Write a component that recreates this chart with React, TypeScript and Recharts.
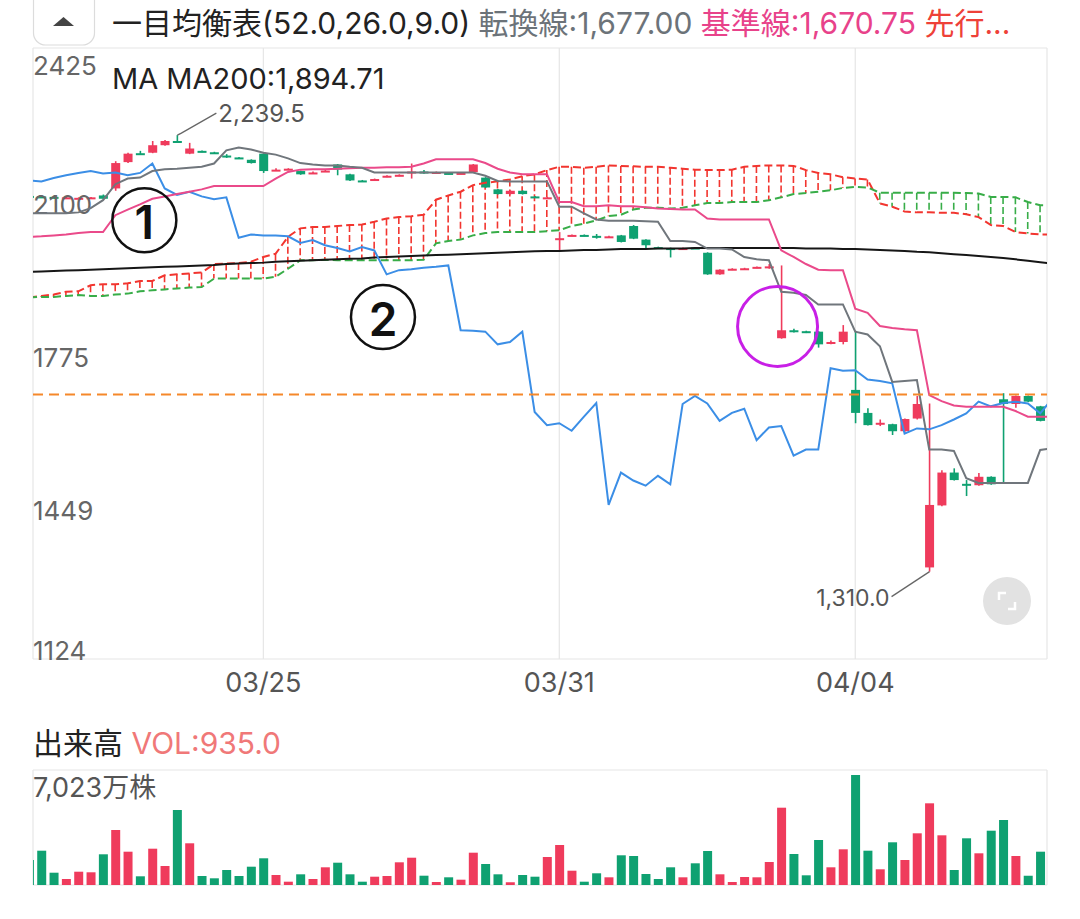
import React from 'react';
import {
  ComposedChart,
  BarChart,
  Bar,
  Line,
  XAxis,
  YAxis,
  CartesianGrid,
  ReferenceLine,
  ReferenceDot,
  Cell
} from 'recharts';

const FONT = "Inter, 'Noto Sans CJK JP', sans-serif";

// 表示範囲 (足のインデックス単位)
const X_MIN = 0.32;
const X_MAX = 82.55;
const Y_MIN = 1124;
const Y_MAX = 2425;
const PRICE_TICKS = [1124, 1449, 1775, 2100, 2425];
const DATE_TICKS = [19, 43, 67];
const DATE_LABELS = ['03/25', '03/31', '04/04'];
const VOL_MAX = 7023;
const LAST_LINE = 1687;

// ローソク足 (1本 = 約1時間)
const OPEN = [
  2110, 2109, 2108, 2105, 2104, 2105, 2111, 2126, 2182, 2201,
  2202, 2218, 2227, 2200, 2206, 2203, 2196, 2192, 2187, 2200,
  2164, 2166, 2163, 2158, 2162, 2177, 2156, 2143, 2144, 2151,
  2153, 2160, 2162, 2159, 2159, 2157, 2161, 2149, 2124, 2114,
  2121, 2109, 2105, 2018, 2025, 2027, 2025, 2022, 2026, 2046,
  2017, 2001, 1999, 1997, 2000, 1989, 1943, 1953, 1954, 1957,
  1958, 1807, 1824, 1822, 1821, 1796, 1799, 1697, 1648, 1625,
  1624, 1609, 1636, 1319, 1451, 1521, 1497, 1494, 1512, 1677,
  1667, 1684, 1662
];
const HIGH = [
  2112, 2110, 2109, 2108, 2107, 2108, 2113, 2184, 2202, 2206,
  2227, 2229, 2239.5, 2223, 2207, 2204, 2199, 2193, 2188, 2201,
  2169, 2169, 2164, 2162, 2166, 2178, 2157, 2144, 2147, 2154,
  2156, 2179, 2165, 2162, 2160, 2160, 2178, 2150, 2125, 2122,
  2122, 2110, 2108, 2033, 2028, 2028, 2029, 2025, 2027, 2048,
  2018, 2002, 2000, 2000, 2001, 1990, 1954, 1956, 1957, 1960,
  1965, 1962, 1827, 1823, 1822, 1802, 1835, 1823, 1658, 1634,
  1625, 1636, 1684, 1668, 1526, 1530, 1505, 1520, 1513, 1690,
  1685, 1685, 1663
];
const LOW = [
  2105, 2106, 2105, 2104, 2103, 2104, 2103, 2121, 2180, 2198,
  2201, 2217, 2224, 2199, 2203, 2200, 2191, 2189, 2179, 2159,
  2163, 2165, 2155, 2157, 2161, 2154, 2142, 2140, 2143, 2150,
  2152, 2147, 2157, 2158, 2156, 2156, 2160, 2127, 2113, 2113,
  2113, 2106, 2104, 1994, 2024, 2024, 2019, 2021, 2011, 2018,
  1998, 1998, 1979, 1996, 1997, 1942, 1942, 1952, 1953, 1956,
  1955, 1806, 1819, 1818, 1787, 1794, 1794, 1626, 1621, 1620,
  1601, 1608, 1634, 1310, 1449, 1504, 1471, 1493, 1495, 1498,
  1659, 1671, 1630
];
const CLOSE = [
  2107, 2107, 2106, 2107, 2106, 2107, 2104, 2180, 2200, 2199,
  2218, 2227, 2225, 2211, 2204, 2201, 2194, 2190, 2180, 2163,
  2166, 2168, 2156, 2160, 2164, 2166, 2143, 2141, 2146, 2153,
  2155, 2162, 2160, 2161, 2157, 2159, 2177, 2128, 2114, 2121,
  2114, 2107, 2107, 2020, 2027, 2025, 2023, 2024, 2012, 2019,
  2005, 1999, 1997, 1999, 1998, 1943, 1953, 1955, 1956, 1959,
  1960, 1824, 1822, 1820, 1794, 1799, 1821, 1648, 1622, 1627,
  1609, 1635, 1667, 1452, 1521, 1505, 1495, 1512, 1496, 1667,
  1684, 1672, 1631
];

// 出来高 (万株)
const VOLUME = [
  1527, 2095, 751, 366, 812, 776, 1875, 3359, 2034, 531,
  2217, 1160, 4580, 2547, 550, 409, 916, 550, 1118, 1631,
  611, 202, 653, 366, 1081, 1362, 653, 202, 507, 550,
  1386, 1667, 568, 183, 470, 324, 1973, 1282, 653, 165,
  611, 507, 1710, 2443, 873, 202, 715, 470, 1814, 1771,
  672, 366, 1081, 470, 1325, 2076, 653, 183, 489, 470,
  1405, 4721, 1893, 592, 2748, 1081, 2180, 6718, 2095, 959,
  2608, 1527, 3157, 4989, 3035, 916, 2852, 1936, 3316, 3970,
  1771, 568, 2034
];

// 一目均衡表 (最後の1点は右端の外側)
const TENKAN = [
  2073, 2073, 2073, 2073, 2075, 2084, 2101, 2135, 2147, 2149,
  2163, 2167, 2168, 2170, 2172, 2179, 2207, 2213, 2209, 2202,
  2198, 2190, 2180, 2177, 2175, 2175, 2172, 2170, 2160, 2160,
  2160, 2160, 2160, 2160, 2160, 2160, 2160, 2153, 2142, 2141,
  2141, 2141, 2141, 2087, 2087, 2073, 2060, 2057, 2057, 2057,
  2056, 2055, 2014, 2014, 2012, 1998, 1998, 1996, 1980, 1975,
  1973, 1906, 1904, 1899, 1879, 1879, 1879, 1821, 1815, 1790,
  1714, 1716, 1718, 1570, 1570, 1567, 1509, 1499, 1499, 1499,
  1499, 1499, 1569, 1573
];
const KIJUN = [
  2023, 2024, 2026, 2028, 2031, 2033, 2033, 2069, 2081, 2092,
  2104, 2109, 2114, 2119, 2124, 2131, 2131, 2131, 2131, 2131,
  2147, 2161, 2166, 2167, 2167, 2168, 2169, 2170, 2170, 2171,
  2171, 2172, 2179, 2188, 2188, 2188, 2188, 2180, 2168, 2160,
  2156, 2156, 2156, 2097, 2097, 2088, 2088, 2090, 2088, 2088,
  2086, 2083, 2082, 2081, 2081, 2062, 2060, 2060, 2060, 2060,
  2060, 1994, 1980, 1965, 1953, 1952, 1952, 1870, 1861, 1833,
  1829, 1826, 1824, 1686, 1673, 1664, 1661, 1661, 1661, 1661,
  1652, 1640, 1640, 1640
];
const CHIKOU = [
  2143, 2141, 2148, 2154, 2159, 2163, 2158, 2160, 2154, 2159,
  2179, 2126, 2112, 2119, 2109, 2103, 2107, 2021, 2028, 2026,
  2026, 2024, 2010, 2016, 2005, 1999, 1992, 2001, 1994, 1943,
  1952, 1954, 1957, 1959, 1962, 1824, 1823, 1821, 1794, 1799,
  1821, 1650, 1622, 1626, 1610, 1640, 1669, 1452, 1521, 1504,
  1493, 1514, 1496, 1667, 1684, 1668, 1631, 1648, 1657, 1590,
  1617, 1620, 1557, 1570, 1570, 1743, 1738, 1739, 1719, 1716,
  1711, 1604, 1615, 1613, 1622, 1634, 1647, 1672, 1662, 1669,
  1672, 1668, 1647, 1679
];
const SPAN_A = [
  1894, 1897, 1900, 1906, 1907, 1920, 1922, 1922, 1924, 1929,
  1929, 1941, 1943, 1945, 1947, 1965, 1966, 1967, 1970, 1980,
  1987, 2023, 2041, 2044, 2044, 2046, 2048, 2049, 2055, 2062,
  2065, 2067, 2070, 2102, 2111, 2119, 2133, 2138, 2141, 2145,
  2152, 2156, 2165, 2172, 2172, 2170, 2172, 2175, 2174, 2173,
  2172, 2172, 2170, 2168, 2166, 2165, 2165, 2166, 2172, 2174,
  2175, 2175, 2174, 2165, 2159, 2156, 2150, 2147, 2145, 2094,
  2087, 2077, 2075, 2075, 2074, 2074, 2071, 2065, 2048, 2046,
  2033, 2030, 2028, 2028
];
const SPAN_B = [
  1894, 1895, 1895, 1897, 1899, 1897, 1897, 1900, 1902, 1907,
  1909, 1911, 1913, 1915, 1916, 1934, 1934, 1934, 1934, 1934,
  1938, 1955, 1973, 1973, 1974, 1973, 1973, 1973, 1973, 1973,
  1973, 1973, 1974, 2009, 2014, 2017, 2026, 2031, 2033, 2033,
  2033, 2033, 2035, 2037, 2046, 2051, 2058, 2067, 2070, 2081,
  2085, 2085, 2083, 2085, 2090, 2095, 2095, 2097, 2097, 2097,
  2101, 2107, 2114, 2116, 2119, 2122, 2127, 2129, 2128, 2117,
  2117, 2117, 2117, 2117, 2117, 2117, 2116, 2115, 2108, 2108,
  2107, 2097, 2090, 2090
];
const MA200 = [
  1948, 1949, 1950, 1951, 1952, 1953, 1954, 1955, 1956, 1957,
  1958, 1959, 1960, 1961, 1962, 1963, 1965, 1966, 1967, 1968,
  1970, 1971, 1972, 1973, 1974, 1975, 1976, 1977, 1979, 1980,
  1981, 1982, 1983, 1984, 1985, 1986, 1987, 1988, 1989, 1990,
  1991, 1992, 1993, 1993, 1994, 1995, 1995, 1996, 1997, 1997,
  1997, 1998, 1998, 1998, 1999, 1999, 1999, 1999, 1999, 1999,
  1999, 1999, 1999, 1998, 1998, 1998, 1997, 1997, 1996, 1995,
  1994, 1993, 1991, 1990, 1988, 1986, 1984, 1982, 1980, 1978,
  1975, 1972, 1969, 1966
];

const HIGH_MARK = 12;
const LOW_MARK = 73;

// 手書きの注釈 (足インデックス, 価格)
const NOTES = [
  { x: 9.35, y: 2058, label: '1' },
  { x: 28.7, y: 1852, label: '2' }
];
const RING = { x: 60.7, y: 1832 };

const RED = '#ef3b5c';
const GREEN = '#0fa171';

const rows = SPAN_A.map((_, i) => ({
  i,
  o: OPEN[i],
  h: HIGH[i],
  l: LOW[i],
  c: CLOSE[i],
  v: VOLUME[i],
  tenkan: TENKAN[i],
  kijun: KIJUN[i],
  chikou: CHIKOU[i],
  a: SPAN_A[i],
  b: SPAN_B[i],
  ma: MA200[i]
}));

const fmt = (n: number) =>
  n.toLocaleString('en-US', { minimumFractionDigits: 1, maximumFractionDigits: 1 });

const Candle = (props: any) => {
  const { x, y, width, height, payload, index } = props;
  if (payload.h == null || !height) return null;
  const k = height / (payload.h - Y_MIN);
  const py = (v: number) => y + (payload.h - v) * k;
  const col = payload.c >= payload.o ? RED : GREEN;
  const cx = x + width / 2;
  const top = py(Math.max(payload.o, payload.c));
  const bh = Math.max(py(Math.min(payload.o, payload.c)) - top, 2);
  return (
    <g>
      <line x1={cx} x2={cx} y1={py(payload.h)} y2={py(payload.l)} stroke={col} strokeWidth={1.6} />
      <rect x={x} y={top} width={width} height={bh} fill={col} />
      {index === HIGH_MARK && (
        <g>
          <polyline
            points={`${cx},${py(payload.h)} ${cx + 4},${py(payload.h) - 2} ${cx + 39},${py(payload.h) - 22}`}
            fill="none" stroke="#666" strokeWidth={1.3} />
          <text x={cx + 41} y={py(payload.h) - 22} fontSize={24} fill="#555" fontFamily={FONT}
            dominantBaseline="central">{fmt(payload.h)}</text>
        </g>
      )}
      {index === LOW_MARK && (
        <g>
          <line x1={cx} y1={py(payload.l)} x2={cx - 38} y2={py(payload.l) + 25} stroke="#666" strokeWidth={1.3} />
          <text x={cx - 40} y={py(payload.l) + 26} fontSize={23} fill="#555" fontFamily={FONT}
            textAnchor="end" dominantBaseline="central">{fmt(payload.l)}</text>
        </g>
      )}
    </g>
  );
};

// 雲の縦線
const CloudStroke = (props: any) => {
  const { x, y, width, height, payload } = props;
  if (!height) return null;
  const cx = x + width / 2;
  return (
    <line x1={cx} x2={cx} y1={y} y2={y + height}
      stroke={payload.a >= payload.b ? '#f2352f' : '#38ad48'}
      strokeWidth={1.6} strokeDasharray="7 3" />
  );
};

// 価格目盛りのラベル (上端は線の下、下端は線の上)
const PriceLabel = (props: any) => {
  const { viewBox, value } = props;
  if (!viewBox) return null;
  const dy = value === Y_MAX ? 17 : value === Y_MIN ? -9 : 4;
  return (
    <text x={viewBox.x} y={viewBox.y + dy} fontSize={26} fill="#666" fontFamily={FONT}
      dominantBaseline="central">
      {value}
    </text>
  );
};

const DateTick = (props: any) => {
  const { x, y, payload } = props;
  const idx = DATE_TICKS.indexOf(payload.value);
  if (idx < 0) return <g />;
  return (
    <text x={x} y={y + 21} fontSize={27} fill="#555" fontFamily={FONT} textAnchor="middle"
      dominantBaseline="central">
      {DATE_LABELS[idx]}
    </text>
  );
};

const CircledNumber = (label: string) => (props: any) => (
  <g>
    <circle cx={props.cx} cy={props.cy} r={32} fill="none" stroke="#111" strokeWidth={2.5} />
    <text x={props.cx} y={props.cy + 2} fontSize={46} fontWeight={600} fill="#111" fontFamily={FONT}
      textAnchor="middle" dominantBaseline="central">{label}</text>
  </g>
);

const App: React.FC = () => {
  const gridTicks = [X_MIN, ...DATE_TICKS, X_MAX];
  return (
    <div style={{ position: 'absolute', left: 0, top: 0, width: 1080, height: 919, background: '#fff', fontFamily: FONT }}>
      {/* 価格チャート */}
      <div style={{ position: 'absolute', left: 0, top: 0 }}>
        <ComposedChart width={1080} height={700} data={rows} margin={{ top: 48, right: 33, bottom: 11, left: 33 }}>
          <CartesianGrid stroke="#e6e6e6" strokeWidth={1.2} />
          <XAxis dataKey="i" type="number" domain={[X_MIN, X_MAX]} allowDataOverflow ticks={gridTicks}
            tick={<DateTick />} tickLine={false} axisLine={false} tickSize={0} height={30} interval={0} />
          <XAxis xAxisId="cloud" dataKey="i" type="number" domain={[X_MIN, X_MAX]} allowDataOverflow hide />
          <YAxis domain={[Y_MIN, Y_MAX]} ticks={PRICE_TICKS} allowDataOverflow width={0}
            tick={false} tickLine={false} axisLine={false} interval={0} />
          {PRICE_TICKS.map((t) => (
            <ReferenceLine key={t} y={t} stroke="none" label={<PriceLabel value={t} />} />
          ))}
          <Bar xAxisId="cloud" dataKey={(d: any) => [Math.min(d.a, d.b), Math.max(d.a, d.b)]} barSize={2}
            shape={<CloudStroke />} isAnimationActive={false} />
          <Line type="linear" dataKey="a" stroke="#f2352f" strokeWidth={2} strokeDasharray="8 4" dot={false}
            activeDot={false} isAnimationActive={false} />
          <Line type="linear" dataKey="b" stroke="#38ad48" strokeWidth={2} strokeDasharray="8 4" dot={false}
            activeDot={false} isAnimationActive={false} />
          <Line type="linear" dataKey="ma" stroke="#161616" strokeWidth={2} dot={false} activeDot={false}
            isAnimationActive={false} />
          <Line type="linear" dataKey="chikou" stroke="#3b8ee6" strokeWidth={2} dot={false} activeDot={false}
            isAnimationActive={false} />
          <Line type="linear" dataKey="kijun" stroke="#ea4a8a" strokeWidth={2} dot={false} activeDot={false}
            isAnimationActive={false} />
          <Line type="linear" dataKey="tenkan" stroke="#70767c" strokeWidth={2} dot={false} activeDot={false}
            isAnimationActive={false} />
          <Bar dataKey={(d: any) => (d.h == null ? null : [Y_MIN, d.h])} barSize={9} shape={<Candle />}
            isAnimationActive={false} />
          <ReferenceLine y={LAST_LINE} stroke="#f5882a" strokeWidth={2} strokeDasharray="10 6" />
          {NOTES.map((n) => (
            <ReferenceDot key={n.label} x={n.x} y={n.y} r={32} shape={CircledNumber(n.label)} />
          ))}
          <ReferenceDot x={RING.x} y={RING.y} r={40} fill="none" stroke="#c81fe6" strokeWidth={3} />
        </ComposedChart>
      </div>

      {/* 出来高 */}
      <div style={{ position: 'absolute', left: 0, top: 760 }}>
        <BarChart width={1080} height={130} data={rows} margin={{ top: 10, right: 33, bottom: 5, left: 33 }}>
          <CartesianGrid stroke="#e6e6e6" strokeWidth={1.2} />
          <XAxis dataKey="i" type="number" domain={[X_MIN, X_MAX]} allowDataOverflow ticks={gridTicks}
            tick={false} tickLine={false} axisLine={false} height={0} interval={0} />
          <YAxis domain={[0, VOL_MAX]} ticks={[0, VOL_MAX]} allowDataOverflow width={0} tick={false}
            tickLine={false} axisLine={false} />
          <Bar dataKey="v" barSize={9} isAnimationActive={false}>
            {rows.map((d) => (
              <Cell key={d.i} fill={d.c >= d.o ? RED : GREEN} />
            ))}
          </Bar>
        </BarChart>
      </div>

      {/* 見出し・ラベル */}
      <svg width={1080} height={919} style={{ position: 'absolute', left: 0, top: 0, pointerEvents: 'none' }}>
        <rect x={33.5} y={-14} width={61} height={59} rx={12} fill="#fff" stroke="#dcdcdc" strokeWidth={1.2} />
        <polygon points="53,26 63.5,17 74,26" fill="#444" />
        <text x={112} y={34} fontSize={30} fontFamily={FONT}>
          <tspan fill="#222">一目均衡表(52.0,26.0,9.0) </tspan>
          <tspan fill="#6c7379">転換線:1,677.00 </tspan>
          <tspan fill="#e8428a">基準線:1,670.75 </tspan>
          <tspan fill="#ee4138">先行...</tspan>
        </text>
        <text x={112} y={89} fontSize={29} fill="#222" fontFamily={FONT}>MA MA200:1,894.71</text>
        <text x={33} y={754} fontSize={30} fontFamily={FONT}>
          <tspan fill="#222">出来高 </tspan>
          <tspan fill="#f07878">VOL:935.0</tspan>
        </text>
        <text x={33} y={797} fontSize={27} fill="#555" fontFamily={FONT}>7,023万株</text>
        <circle cx={1007} cy={601} r={24} fill="#e2e2e2" />
        <polyline points="999,600 999,593 1006,593" fill="none" stroke="#fff" strokeWidth={2.5} />
        <polyline points="1015,602 1015,609 1008,609" fill="none" stroke="#fff" strokeWidth={2.5} />
      </svg>
    </div>
  );
};

export default App;
